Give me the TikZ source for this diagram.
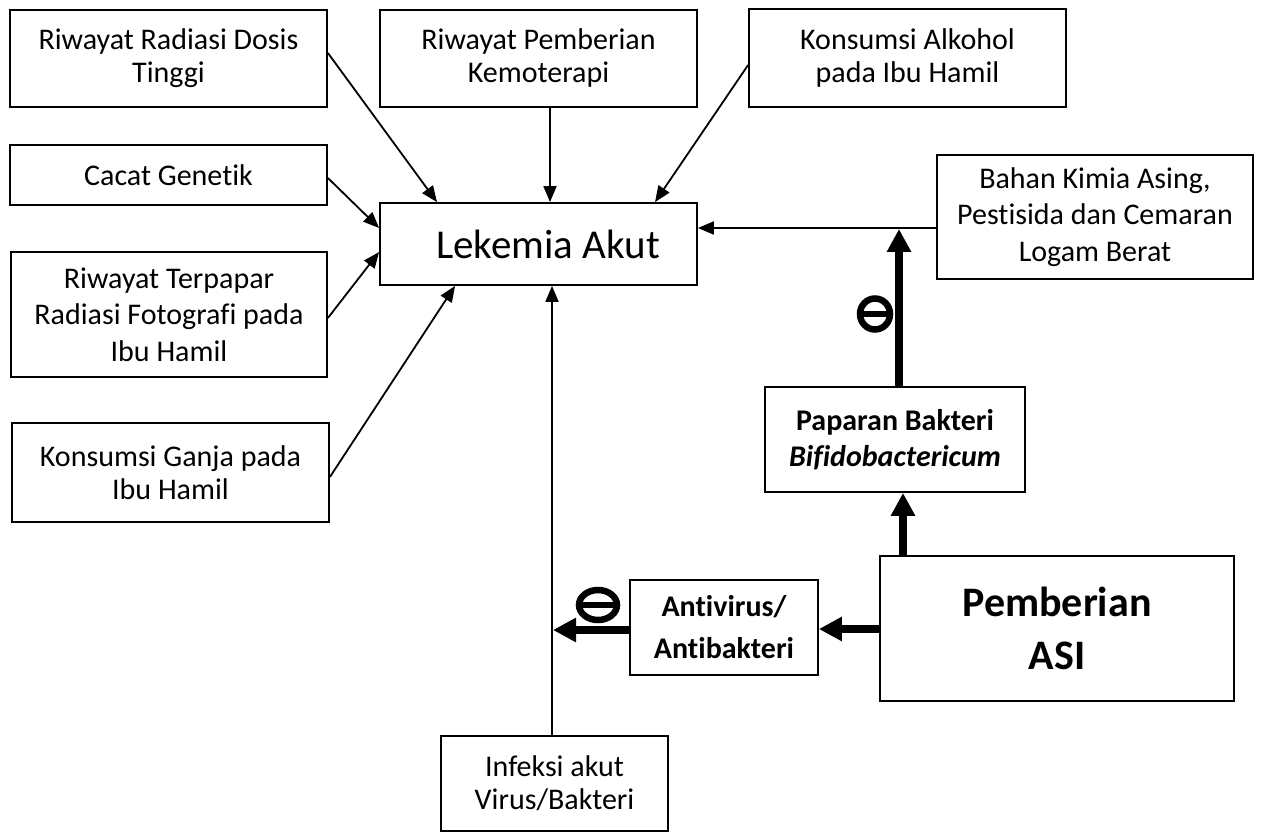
\documentclass[tikz,border=0pt]{standalone}
\usepackage{fontspec}
\setmainfont[Ligatures={NoCommon}]{Carlito}
\usetikzlibrary{arrows.meta}
\tikzset{
  box/.style={draw, line width=1.8pt, align=center, inner sep=0pt, font=\fontsize{30}{33}\selectfont},
  box3/.style={box, font=\fontsize{30}{36.5}\selectfont},
  bbox/.style={draw, line width=1.8pt, align=center, inner sep=0pt, font=\fontsize{30}{36}\selectfont\bfseries},
  thin/.style={line width=1.8pt, -{Triangle[length=16pt,width=13pt]}},
  thick/.style={line width=8pt, -{Triangle[length=23pt,width=23pt]}},
  negsign/.style={line width=6.5pt}
}
\newcommand{\bx}[5]{\node[#1, minimum width=#4pt, minimum height=#5pt] (#2) at (#3) }
\begin{document}
\begin{tikzpicture}[x=1pt,y=-1pt]
\useasboundingbox (0,0) rectangle (1261,834);
\fill[white] (0,0) rectangle (1261,834);
\bx{box}{r1}{168.5,58.5}{317}{97} {Riwayat Radiasi Dosis\\Tinggi};
\bx{box}{r2}{538.5,58.5}{317}{97} {Riwayat Pemberian\\Kemoterapi};
\bx{box}{r3}{907.5,58}{317}{98} {Konsumsi Alkohol\\pada Ibu Hamil};
\bx{box}{cg}{168.5,175}{317}{60} {Cacat Genetik};
\bx{box3}{rt}{169,314.5}{316}{125} {Riwayat Terpapar\\Radiasi Fotografi pada\\Ibu Hamil};
\bx{box}{kg}{170.5,472.5}{317}{99} {Konsumsi Ganja pada\\Ibu Hamil};
\bx{box, font=\fontsize{41}{40}\selectfont}{lk}{538.5,244}{317}{82} {\hspace*{19pt}Lekemia Akut};
\bx{box3}{bk}{1095,217}{316}{124} {Bahan Kimia Asing,\\Pestisida dan Cemaran\\Logam Berat};
\bx{bbox}{pb}{895,439.5}{260}{105} {Paparan Bakteri\\\textit{Bifidobactericum}};
\bx{bbox, font=\fontsize{42}{53}\selectfont\bfseries}{asi}{1057,628.5}{354}{145} {Pemberian\\ASI};
\bx{bbox, font=\fontsize{30}{42}\selectfont\bfseries}{av}{724,627.5}{188}{95} {Antivirus/\\Antibakteri};
\bx{box}{inf}{554.5,783.5}{227}{95} {Infeksi akut\\Virus/Bakteri};
% thin connectors
\draw[thin] ([yshift=5.5pt]r1.east) -- ([xshift=-101.5pt]lk.north);
\draw[thin] ([xshift=11.5pt]r2.south) -- ([xshift=11.5pt]lk.north);
\draw[thin] ([yshift=-7pt]r3.west) -- ([xshift=116.5pt]lk.north);
\draw[thin] ([yshift=-3pt]cg.east) -- ([yshift=16pt]lk.west);
\draw[thin] ([yshift=-3.5pt]rt.east) -- ([yshift=-8pt]lk.west);
\draw[thin] ([yshift=-4.5pt]kg.east) -- ([xshift=-83.5pt]lk.south);
\draw[thin] ([yshift=-11pt]bk.west) -- ([yshift=16pt]lk.east);
\draw[thin] ([xshift=-2.5pt]inf.north) -- ([xshift=13.5pt]lk.south);
% thick connectors
\coordinate (tipA) at (899,229);
\coordinate (tipB) at (553,630);
\draw[thick] ([xshift=4pt]pb.north) -- (tipA);
\draw[thick] ([xshift=-154pt]asi.north) -- ([xshift=8pt]pb.south);
\draw[thick] ([yshift=-0.5pt]asi.west) -- ([yshift=-1.5pt]av.east);
\draw[thick] ([yshift=-2.5pt]av.west) -- (tipB);
% negative signs
\draw[negsign] (598,605) ellipse (19 and 15);
\draw[negsign] (579,605) -- (617,605);
\draw[negsign] (875,314) ellipse (15 and 15.5);
\draw[negsign] (860,314) -- (890,314);
\end{tikzpicture}
\end{document}
